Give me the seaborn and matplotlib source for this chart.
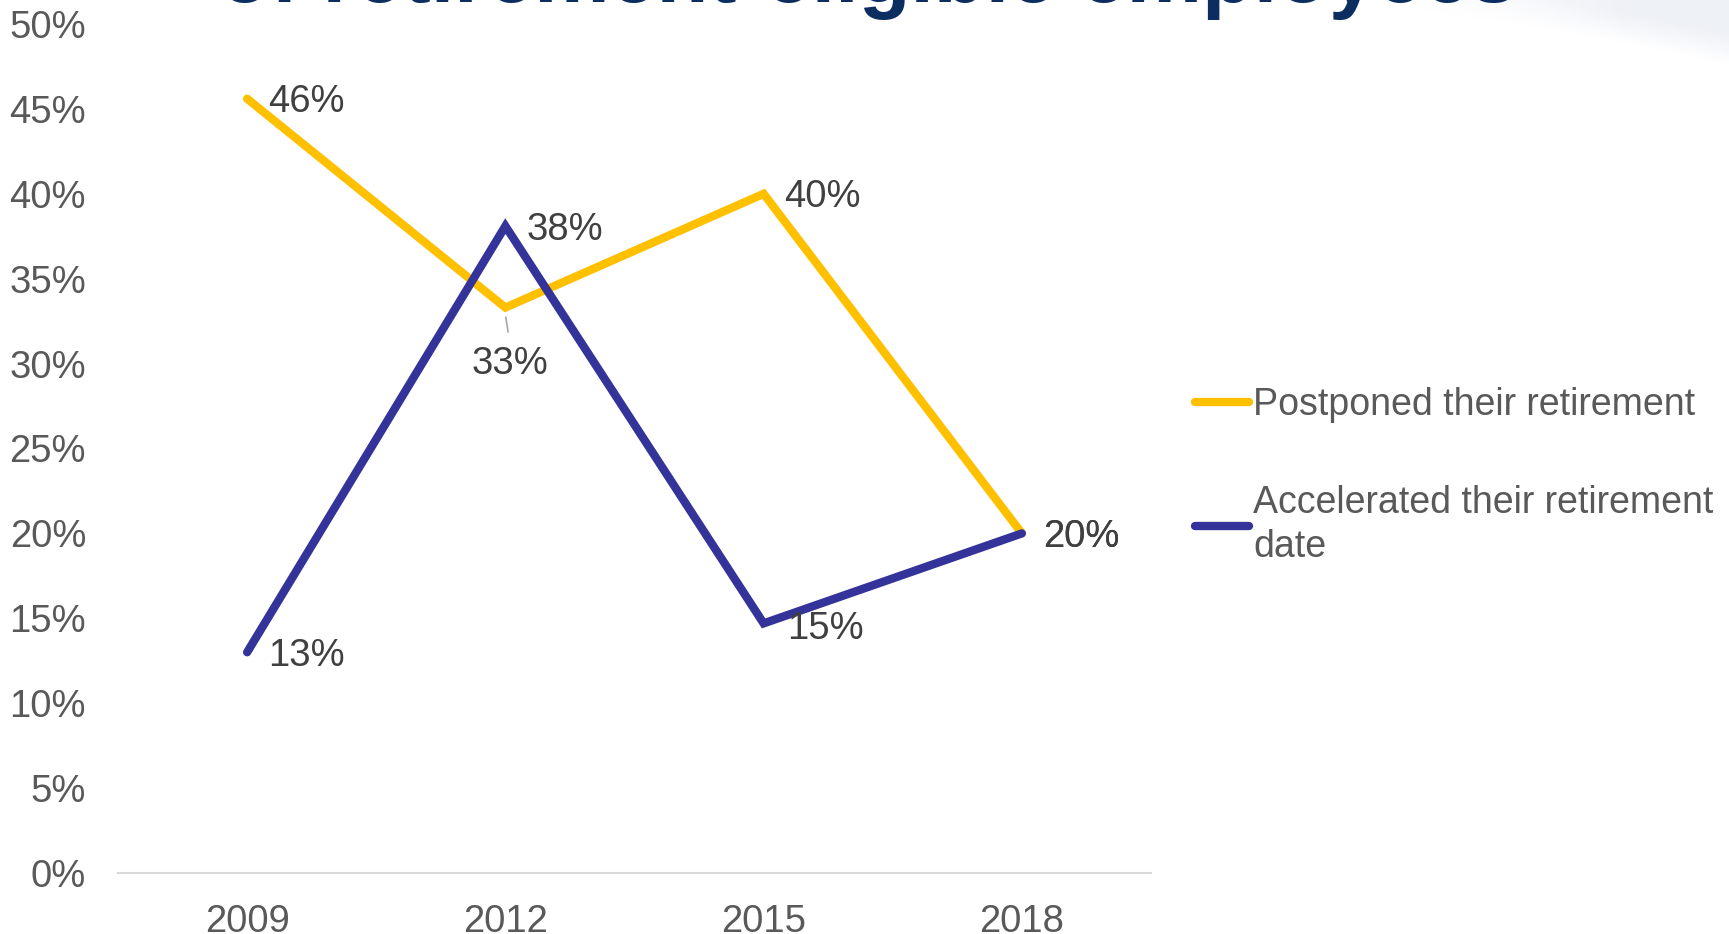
import matplotlib
matplotlib.use("Agg")
import matplotlib.pyplot as plt
import seaborn as sns
import pandas as pd
import numpy as np

years = ["2009", "2012", "2015", "2018"]
postponed = [45.6, 33.3, 40.0, 20.0]
accelerated = [13.0, 38.1, 14.7, 20.0]
postponed_labels = ["46%", "33%", "40%", "20%"]
accelerated_labels = ["13%", "38%", "15%", "20%"]
series_names = ["Postponed their retirement", "Accelerated their retirement\ndate"]
title_text = "of retirement-eligible employees"
ytick_vals = [0, 5, 10, 15, 20, 25, 30, 35, 40, 45, 50]

sns.set_theme(style="white")
plt.rcParams["font.family"] = ["Liberation Sans", "DejaVu Sans"]

df = pd.DataFrame({
    "year": years * 2,
    "value": postponed + accelerated,
    "series": [series_names[0]] * 4 + [series_names[1]] * 4,
})

fig = plt.figure(figsize=(17.29, 9.34), dpi=100)

# subtle decorative swoosh in the top-right corner
H, W = 70, 360
yy, xx = np.mgrid[0:H, 0:W]
t = xx / W
curve = 10 + 55 * (t ** 1.5)
alpha = np.clip((curve - yy) / 30.0, 0, 1) * np.clip((t - 0.1) / 0.6, 0, 1) * 0.35
img = np.zeros((H, W, 4))
img[..., 0] = 0.82
img[..., 1] = 0.85
img[..., 2] = 0.91
img[..., 3] = alpha
fig.figimage(img, xo=1729 - W, yo=934 - H, origin="upper", zorder=0)

ax = fig.add_axes([118/1729, 1 - 873/934, (1151 - 118)/1729, (873 - 24)/934])
ax.patch.set_alpha(0)

palette = {series_names[0]: "#FFC000", series_names[1]: "#333399"}
sns.lineplot(data=df, x="year", y="value", hue="series", palette=palette,
             linewidth=6, sort=False, ax=ax, legend=True)
for ln in ax.lines:
    ln.set_solid_capstyle("round")
    ln.set_solid_joinstyle("miter")

ax.set_xlim(-0.5, 3.5)
ax.set_ylim(0, 50)
ax.set_yticks(ytick_vals)
ax.set_yticklabels([f"{v}%" for v in ytick_vals])
ax.set_xlabel("")
ax.set_ylabel("")
for s in ["top", "right", "left"]:
    ax.spines[s].set_visible(False)
ax.spines["bottom"].set_color("#D9D9D9")
ax.spines["bottom"].set_linewidth(1.5)
fs = 27.5
ax.tick_params(axis="both", length=0, labelsize=fs, labelcolor="#595959")
ax.tick_params(axis="y", pad=23)
ax.tick_params(axis="x", pad=22)
ax.grid(False)

lab_color = "#404040"
# Postponed labels
for i, (v, tx) in enumerate(zip(postponed, postponed_labels)):
    if i == 1:
        ax.annotate(tx, xy=(i, v), xytext=(3, -28), textcoords="offset points",
                    ha="center", va="top", fontsize=fs, color=lab_color)
        ax.annotate("", xy=(i, v - 0.4), xytext=(i + 0.012, v - 1.6),
                    arrowprops=dict(arrowstyle="-", color="#A6A6A6", lw=1.2))
    else:
        ax.annotate(tx, xy=(i, v), xytext=(15, -2.5), textcoords="offset points",
                    ha="left", va="center", fontsize=fs, color=lab_color)
# Accelerated labels
for i, (v, tx) in enumerate(zip(accelerated, accelerated_labels)):
    dy = -4 if i == 2 else -2.5
    dx = 17 if i == 2 else 15
    ax.annotate(tx, xy=(i, v), xytext=(dx, dy), textcoords="offset points",
                ha="left", va="center", fontsize=fs, color=lab_color)

handles, labels = ax.get_legend_handles_labels()
leg = ax.legend(handles, labels, loc="upper left",
                bbox_to_anchor=(1195/1729, 1 - 387/934), bbox_transform=fig.transFigure,
                frameon=False, fontsize=27, handlelength=1.45, handletextpad=0.1,
                labelspacing=1.65, borderaxespad=0, borderpad=0)
for tx in leg.get_texts():
    tx.set_color("#595959")
    tx.set_linespacing(1.28)
for h in leg.get_lines():
    h.set_linewidth(6)
    h.set_solid_capstyle("round")

fig.text(868/1729, 1 - 1.5/934, title_text, ha="center", va="baseline",
         fontsize=61, fontweight="bold", color="#0B2D5F")

fig.savefig("out.png", dpi=100, facecolor="white")
